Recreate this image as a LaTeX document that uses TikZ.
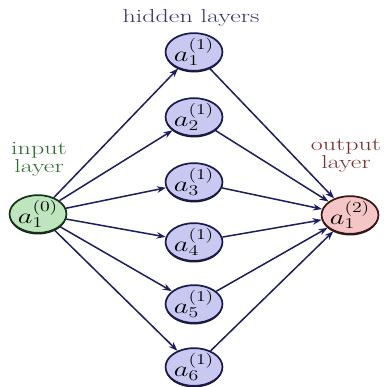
\documentclass[tikz,border=0pt]{standalone}
\usetikzlibrary{shapes.geometric,arrows.meta,shadows}
\definecolor{hidfill}{HTML}{C8C8F0}
\definecolor{hiddraw}{HTML}{1A1A50}
\definecolor{infill}{HTML}{BFE5BF}
\definecolor{indraw}{HTML}{143214}
\definecolor{outfill}{HTML}{F4C6C6}
\definecolor{outdraw}{HTML}{3C1414}
\definecolor{conncol}{HTML}{1C1C60}
\definecolor{hidtext}{HTML}{34346E}
\definecolor{intext}{HTML}{2F6B2F}
\definecolor{outtext}{HTML}{7C2E2E}
\newcommand{\wide}[1]{\scalebox{1.39}[1]{#1}}
\newcommand{\mlbl}[1]{\scalebox{1.65}[1.25]{$#1$}}
\tikzset{
  neuron/.style={ellipse, minimum width=53pt, minimum height=36pt, inner sep=0pt, line width=1.7pt,
    font=\fontsize{17}{19}\selectfont,
    drop shadow={shadow xshift=0pt, shadow yshift=-1.6pt, opacity=0.9, fill=black}},
  hid/.style={neuron, draw=hiddraw, fill=hidfill},
  inn/.style={neuron, draw=indraw, fill=infill},
  outn/.style={neuron, draw=outdraw, fill=outfill},
  conn/.style={draw=conncol, line width=1.5pt, -{Stealth[length=9pt,width=6.5pt]}},
  lbl/.style={align=center, font=\fontsize{18.7}{15}\selectfont, inner sep=0pt}
}
\begin{document}
\begin{tikzpicture}[x=1pt,y=-1pt]
\useasboundingbox (0,0) rectangle (383,387);
\node[inn] (in) at (38,214) {\mlbl{a_1^{(0)}}};
\node[hid] (h1) at (194,52) {\mlbl{a_1^{(1)}}};
\node[hid] (h2) at (194,117) {\mlbl{a_2^{(1)}}};
\node[hid] (h3) at (194,182) {\mlbl{a_3^{(1)}}};
\node[hid] (h4) at (194,242) {\mlbl{a_4^{(1)}}};
\node[hid] (h5) at (194,304) {\mlbl{a_5^{(1)}}};
\node[hid] (h6) at (194,367) {\mlbl{a_6^{(1)}}};
\node[outn] (out) at (350,215) {\mlbl{a_1^{(2)}}};
\foreach \i in {1,...,6}{
  \draw[conn] (in) -- (h\i);
  \draw[conn] (h\i) -- (out);
}
\node[lbl, text=hidtext, anchor=base] (tH) at (191,23) {\wide{hidden layers}};
\node[lbl, text=intext, anchor=base] (tI) at (39,172) {\wide{input}\\\wide{layer}};
\node[lbl, text=outtext, anchor=base] (tO) at (346,168) {\wide{output}\\\wide{layer}};
\end{tikzpicture}
\end{document}
